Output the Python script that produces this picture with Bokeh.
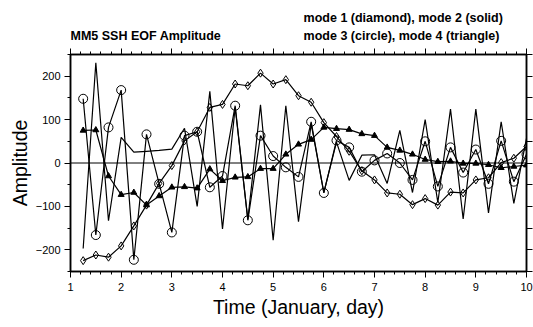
from bokeh.plotting import figure
from bokeh.layouts import column
from bokeh.models import LinearAxis, FixedTicker, Span
from bokeh.core.properties import value
from bokeh.embed import file_html
from bokeh.resources import INLINE

days = [1.25, 1.5, 1.75, 2.0, 2.25, 2.5, 2.75, 3.0, 3.25, 3.5, 3.75, 4.0,
        4.25, 4.5, 4.75, 5.0, 5.25, 5.5, 5.75, 6.0, 6.25, 6.5, 6.75, 7.0,
        7.25, 7.5, 7.75, 8.0, 8.25, 8.5, 8.75, 9.0, 9.25, 9.5, 9.75, 10.0]

mode1 = [-225, -212, -217, -191, -145, -97, -47, -6, 51, 72, 128, 135,
         182, 178, 207, 182, 192, 155, 140, 93, 61, 27, -18, -39,
         -69, -72, -96, -82, -97, -67, -69, -39, -34, 1, 11, 38]
mode2 = [-197, 231, -133, 59, 25, 27, 29, 32, 80, -100, 165, -152,
         128, -130, 134, -178, 132, -135, 90, -68, 48, -40, 18, 19,
         -47, 75, -68, 100, -91, 124, -129, 124, -115, 95, -93, 57]
mode3 = [148, -166, 82, 168, -223, 66, -48, -160, 63, 72, -56, -30,
         132, -132, 63, 16, -10, -32, 95, -69, 52, 36, -20, 6,
         22, 0, -39, 50, -54, 36, -22, 31, -48, 51, -43, 20]
mode4 = [75, 76, -30, -73, -68, -97, -76, -56, -55, -58, -14, -41,
         -33, -32, -13, -13, 20, 43, 54, 82, 79, 77, 67, 63,
         36, 29, 20, 8, 3, 4, -1, -1, -4, -11, -8, -5]

x_ticks = [1, 2, 3, 4, 5, 6, 7, 8, 9, 10]
y_ticks = [-200, -100, 0, 100, 200]

title_text = "MM5 SSH EOF Amplitude"
legend_line1 = "mode 1 (diamond), mode 2 (solid)"
legend_line2 = "mode 3 (circle), mode 4 (triangle)"

FONT = "Liberation Sans"
W, H = 533, 327
HEAD = 44

# ---- header strip (title + legend text); its frame is aligned with the chart's ----
head = figure(width=W, height=HEAD, x_range=(1, 10), y_range=(HEAD, 0),
              output_backend="svg", toolbar_location=None,
              min_border=0, min_border_left=70, min_border_right=7,
              outline_line_color=None)
head.axis.visible = False
head.xgrid.visible = False
head.ygrid.visible = False
head.text(x=[1.0, 5.6, 5.6], y=[35, 17.5, 35],
          text=[title_text, legend_line1, legend_line2],
          text_font=value(FONT), text_font_size=value("12.5px"),
          text_font_style="bold", text_baseline="alphabetic",
          text_align="left", text_color="black")

# ---- main chart ----
p = figure(width=W, height=H - HEAD, x_range=(1, 10), y_range=(-250, 250),
           output_backend="svg", toolbar_location=None,
           min_border_left=70, min_border_right=7, min_border_top=54 - HEAD,
           min_border_bottom=56, x_axis_label="Time (January, day)",
           y_axis_label="Amplitude")
p.xgrid.visible = False
p.ygrid.visible = False
p.outline_line_color = "black"
p.outline_line_width = 1.5
p.background_fill_color = "white"
p.border_fill_color = "white"

x_minor = [1 + 0.2 * i for i in range(46)]
y_minor = [-250 + 50 * i for i in range(11)]


def style(ax, labels=True):
    ax.axis_line_color = "black"
    ax.axis_line_width = 1.5
    ax.major_tick_in = 0
    ax.major_tick_out = 6
    ax.minor_tick_in = 0
    ax.minor_tick_out = 3
    ax.major_tick_line_color = "black"
    ax.minor_tick_line_color = "black"
    ax.major_label_text_font = FONT
    ax.major_label_text_font_size = "11px"
    ax.major_label_text_color = "black"
    ax.axis_label_text_font = FONT
    ax.axis_label_text_font_style = "normal"
    ax.axis_label_text_font_size = "19.5px"
    ax.axis_label_text_color = "black"
    if not labels:
        ax.major_label_standoff = 0
        ax.axis_label_standoff = 0
        ax.major_label_overrides = {t: "" for t in ax.ticker.ticks}


xb = p.xaxis[0]
xb.ticker = FixedTicker(ticks=x_ticks, minor_ticks=x_minor)
style(xb)
xb.major_label_standoff = 5
xb.axis_label_standoff = 2

yl = p.yaxis[0]
yl.ticker = FixedTicker(ticks=y_ticks, minor_ticks=y_minor)
style(yl)
yl.major_label_standoff = 4
yl.axis_label_standoff = 2

xt = LinearAxis(ticker=FixedTicker(ticks=x_ticks, minor_ticks=x_minor))
style(xt, labels=False)
p.add_layout(xt, "above")

yr = LinearAxis(ticker=FixedTicker(ticks=y_minor, minor_ticks=[]))
style(yr, labels=False)
p.add_layout(yr, "right")

p.add_layout(Span(location=0, dimension="width", line_color="black", line_width=1))

lw = 1.2
p.line(days, mode2, line_color="black", line_width=lw)
p.line(days, mode1, line_color="black", line_width=lw)
p.scatter(days, mode1, marker="diamond", size=8, fill_color=None, line_color="black", line_width=1)
p.line(days, mode3, line_color="black", line_width=lw)
p.scatter(days, mode3, marker="circle", size=9, fill_color=None, line_color="black", line_width=1)
p.line(days, mode4, line_color="black", line_width=lw)
p.scatter(days, mode4, marker="triangle", size=6, fill_color="black", line_color="black")

layout = column(head, p, spacing=0)
open("out.html", "w").write(file_html(layout, INLINE))
